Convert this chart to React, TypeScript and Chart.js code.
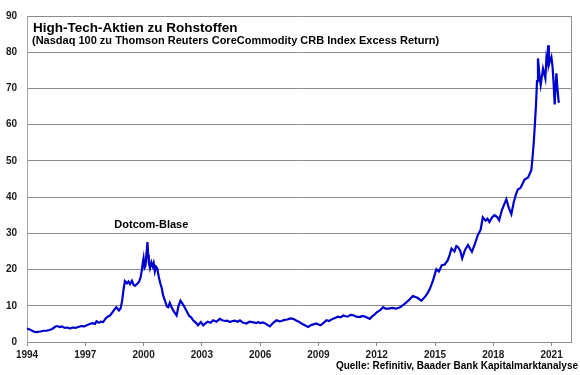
import React, { useEffect, useRef } from "react";
import { Chart, registerables } from "chart.js";

Chart.register(...registerables);

const years: number[] = [
  1994.0, 1994.1, 1994.2, 1994.3, 1994.45, 1994.55, 1994.7, 1994.85, 1995.0, 1995.15,
  1995.3, 1995.45, 1995.55, 1995.7, 1995.8, 1995.95, 1996.1, 1996.2, 1996.35, 1996.5,
  1996.64, 1996.8, 1996.95, 1997.07, 1997.2, 1997.35, 1997.5, 1997.58, 1997.7, 1997.8,
  1997.92, 1998.05, 1998.15, 1998.27, 1998.4, 1998.5, 1998.6, 1998.73, 1998.82, 1998.9,
  1998.97, 1999.04, 1999.15, 1999.22, 1999.3, 1999.4, 1999.48, 1999.56, 1999.7, 1999.78,
  1999.85, 1999.9, 1999.95, 2000.0, 2000.05, 2000.1, 2000.15, 2000.2, 2000.24, 2000.27,
  2000.33, 2000.4, 2000.47, 2000.52, 2000.58, 2000.64, 2000.7, 2000.8, 2000.87, 2000.93,
  2001.0, 2001.1, 2001.2, 2001.27, 2001.35, 2001.44, 2001.55, 2001.7, 2001.8, 2001.9,
  2002.05, 2002.2, 2002.35, 2002.45, 2002.55, 2002.7, 2002.8, 2002.95, 2003.07, 2003.2,
  2003.3, 2003.45, 2003.58, 2003.75, 2003.93, 2004.05, 2004.2, 2004.32, 2004.44, 2004.58,
  2004.7, 2004.85, 2004.96, 2005.1, 2005.3, 2005.45, 2005.6, 2005.8, 2005.9, 2006.0,
  2006.15, 2006.3, 2006.5, 2006.6, 2006.7, 2006.84, 2007.0, 2007.1, 2007.25, 2007.4,
  2007.55, 2007.7, 2007.9, 2008.0, 2008.13, 2008.3, 2008.47, 2008.6, 2008.7, 2008.9,
  2009.0, 2009.1, 2009.25, 2009.42, 2009.55, 2009.7, 2009.85, 2010.0, 2010.15, 2010.27,
  2010.4, 2010.5, 2010.65, 2010.8, 2010.95, 2011.13, 2011.25, 2011.4, 2011.52, 2011.64,
  2011.75, 2011.9, 2012.0, 2012.16, 2012.33, 2012.45, 2012.6, 2012.8, 2013.0, 2013.2,
  2013.35, 2013.5, 2013.7, 2013.86, 2014.0, 2014.1, 2014.3, 2014.5, 2014.62, 2014.73,
  2014.9, 2015.07, 2015.2, 2015.35, 2015.5, 2015.65, 2015.75, 2015.85, 2016.0, 2016.1,
  2016.17, 2016.3, 2016.4, 2016.55, 2016.7, 2016.8, 2016.9, 2017.05, 2017.2, 2017.35,
  2017.46, 2017.6, 2017.7, 2017.8, 2017.95, 2018.07, 2018.2, 2018.3, 2018.45, 2018.6,
  2018.67, 2018.8, 2018.93, 2019.05, 2019.15, 2019.26, 2019.4, 2019.5, 2019.6, 2019.8,
  2019.96, 2020.02, 2020.08, 2020.14, 2020.2, 2020.25, 2020.3, 2020.37, 2020.44, 2020.56,
  2020.68, 2020.73, 2020.78, 2020.82, 2020.86, 2020.9, 2020.99, 2021.05, 2021.1, 2021.16,
  2021.2, 2021.25, 2021.3, 2021.37,
];

const ratio: number[] = [
  3.7, 3.5, 3.3, 3.0, 2.7, 2.8, 2.9, 3.1, 3.1, 3.3,
  3.6, 4.2, 4.4, 4.1, 4.3, 3.9, 4.0, 3.7, 4.0, 3.9,
  4.15, 4.4, 4.3, 4.6, 4.9, 5.2, 5.0, 5.7, 5.3, 5.6,
  5.5, 6.5, 7.0, 7.3, 8.2, 9.0, 9.6, 8.7, 9.3, 11.5,
  14.5, 16.8, 16.2, 16.7, 16.0, 16.9, 15.8, 15.5, 16.2, 16.8,
  18.0, 19.5, 21.5, 23.1, 20.5, 21.0, 24.5, 27.6, 24.0, 22.0,
  20.4, 22.0, 20.9, 21.8, 19.5, 20.8, 20.4, 17.5, 16.0, 15.0,
  13.0, 11.4, 9.8, 9.6, 10.8, 9.6, 8.5, 7.3, 10.0, 11.4,
  10.2, 8.7, 7.2, 6.8, 6.0, 5.3, 4.6, 5.5, 4.6, 5.2,
  5.6, 5.3, 6.0, 5.6, 6.4, 6.0, 5.8, 5.9, 5.5, 5.8,
  5.9, 5.6, 6.0, 5.4, 5.1, 5.6, 5.5, 5.2, 5.5, 5.2,
  5.4, 5.0, 4.3, 4.9, 5.4, 6.0, 5.7, 5.8, 6.1, 6.2,
  6.5, 6.4, 5.8, 5.6, 5.1, 4.6, 4.15, 4.6, 4.8, 5.1,
  4.8, 4.6, 5.2, 6.0, 5.8, 6.3, 6.6, 7.0, 6.8, 7.3,
  7.1, 7.0, 7.5, 7.4, 7.0, 6.9, 7.2, 7.0, 6.7, 6.4,
  7.0, 7.6, 8.2, 8.7, 9.6, 9.2, 9.2, 9.4, 9.2, 9.6,
  10.2, 10.8, 11.8, 12.7, 12.4, 12.2, 11.4, 12.6, 13.5, 14.6,
  17.0, 20.1, 19.5, 21.2, 21.4, 22.5, 24.0, 25.8, 25.0, 26.5,
  26.3, 25.2, 23.1, 25.5, 26.8, 25.8, 24.9, 27.0, 29.5, 31.0,
  34.4, 33.5, 34.0, 33.1, 34.5, 35.0, 34.5, 33.6, 36.5, 38.5,
  39.4, 37.0, 35.3, 38.5, 40.5, 42.1, 42.5, 43.6, 44.8, 45.5,
  47.5, 51.0, 54.8, 60.0, 65.6, 72.0, 78.3, 74.0, 71.0, 75.5,
  72.8, 77.8, 76.0, 81.9, 76.5, 77.3, 78.7, 76.0, 71.9, 65.6,
  70.0, 74.2, 70.0, 66.0,
];

const xTickYears: number[] = [1994, 1997, 2000, 2003, 2006, 2009, 2012, 2015, 2018, 2021];
const yTickValues: number[] = [0, 10, 20, 30, 40, 50, 60, 70, 80, 90];

const titleText = "High-Tech-Aktien zu Rohstoffen";
const subtitleText = "(Nasdaq 100 zu Thomson Reuters CoreCommodity CRB Index Excess Return)";
const bubbleLabel = "Dotcom-Blase";
const bubbleAnchor = { year: 2000.4, value: 32.2 };
const sourceText = "Quelle: Refinitiv, Baader Bank Kapitalmarktanalyse";

const FONT = "'Liberation Sans', Arial, Helvetica, sans-serif";

export default function App() {
  const canvasRef = useRef<HTMLCanvasElement | null>(null);

  useEffect(() => {
    const canvas = canvasRef.current;
    if (!canvas) return;

    const textPlugin = {
      id: "annotText",
      afterDraw(chart: any) {
        const { ctx, chartArea, scales } = chart;
        ctx.save();
        ctx.strokeStyle = "#8c8c8c";
        ctx.lineWidth = 1;
        ctx.beginPath();
        ctx.moveTo(Math.round(chartArea.right) + 0.5, chartArea.top);
        ctx.lineTo(Math.round(chartArea.right) + 0.5, chartArea.bottom);
        ctx.stroke();

        ctx.fillStyle = "#000";
        ctx.textBaseline = "middle";
        ctx.textAlign = "left";
        ctx.font = `bold 13.5px ${FONT}`;
        ctx.fillText(titleText, chartArea.left + 6, chartArea.top + 12);
        ctx.font = `bold 11px ${FONT}`;
        ctx.fillText(subtitleText, chartArea.left + 5, chartArea.top + 25);

        ctx.font = `bold 11px ${FONT}`;
        ctx.textAlign = "center";
        ctx.fillText(
          bubbleLabel,
          scales.x.getPixelForValue(bubbleAnchor.year),
          scales.y.getPixelForValue(bubbleAnchor.value)
        );

        ctx.font = `bold 10px ${FONT}`;
        ctx.textAlign = "right";
        ctx.fillText(sourceText, chart.width - 2, chart.height - 9);
        ctx.restore();
      },
    };

    const chart = new Chart(canvas, {
      type: "line",
      data: {
        datasets: [
          {
            data: years.map((y, i) => ({ x: y, y: ratio[i] })),
            borderColor: "#0000CD",
            borderWidth: 2.2,
            pointRadius: 0,
            tension: 0,
            fill: false,
          },
        ],
      },
      options: {
        responsive: false,
        animation: false,
        layout: { padding: { top: 10, right: 9, bottom: 9, left: 0 } },
        plugins: {
          legend: { display: false },
          tooltip: { enabled: false },
          title: { display: false },
        },
        scales: {
          x: {
            type: "linear",
            min: 1994,
            max: 2022,
            afterFit: (s: any) => {
              s.height = 24;
            },
            afterBuildTicks: (s: any) => {
              s.ticks = xTickYears.map((v) => ({ value: v }));
            },
            grid: {
              drawOnChartArea: false,
              drawTicks: true,
              tickLength: 4,
              color: "#8c8c8c",
            },
            border: { display: true, color: "#8c8c8c", width: 1 },
            ticks: {
              autoSkip: false,
              maxRotation: 0,
              padding: 3,
              color: "#1a1a1a",
              font: { family: FONT, size: 10, weight: "bold" },
              callback: (v: any) => String(v),
            },
          },
          y: {
            type: "linear",
            min: 0,
            max: 90,
            afterFit: (s: any) => {
              s.width = 27;
            },
            afterBuildTicks: (s: any) => {
              s.ticks = yTickValues.map((v) => ({ value: v }));
            },
            grid: {
              drawTicks: false,
              color: "#8c8c8c",
              lineWidth: 1,
            },
            border: { display: true, color: "#a6a6a6", width: 1 },
            ticks: {
              padding: 10,
              color: "#1a1a1a",
              font: { family: FONT, size: 10, weight: "bold" },
            },
          },
        },
      },
      plugins: [textPlugin],
    } as any);

    return () => chart.destroy();
  }, []);

  return (
    <div style={{ position: "fixed", left: 0, top: 0, width: 580, height: 375, background: "#fff" }}>
      <canvas ref={canvasRef} width={580} height={375} style={{ width: 580, height: 375 }} />
    </div>
  );
}
